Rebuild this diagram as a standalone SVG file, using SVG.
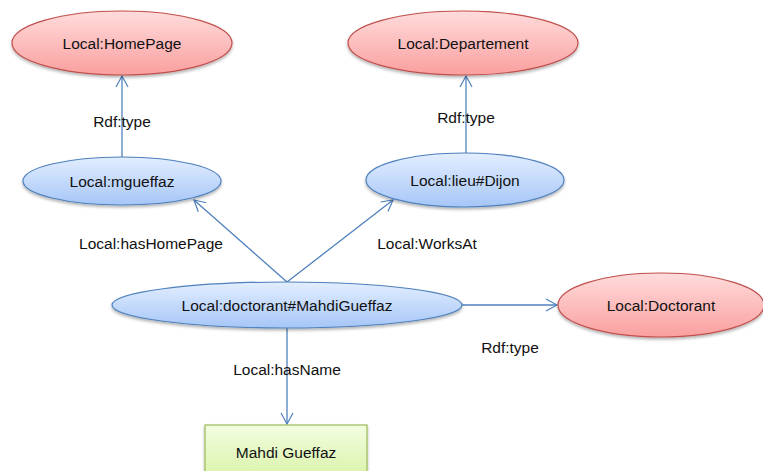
<svg xmlns="http://www.w3.org/2000/svg" width="763" height="471" viewBox="0 0 763 471">
<defs>
<linearGradient id="gRed" x1="0" y1="0" x2="0" y2="1"><stop offset="0" stop-color="#ffdcdc"/><stop offset="1" stop-color="#fa9f9f"/></linearGradient>
<linearGradient id="gBlue" x1="0" y1="0" x2="0" y2="1"><stop offset="0" stop-color="#e3eeff"/><stop offset="1" stop-color="#a6c6f7"/></linearGradient>
<linearGradient id="gGreen" x1="0" y1="0" x2="0" y2="1"><stop offset="0" stop-color="#f3fde0"/><stop offset="1" stop-color="#d8f2a6"/></linearGradient>
<filter id="sh" x="-10%" y="-20%" width="120%" height="150%"><feDropShadow dx="0" dy="2" stdDeviation="1.5" flood-color="#000" flood-opacity="0.3"/></filter>
<marker id="arr" markerWidth="14" markerHeight="14" refX="12" refY="7" orient="auto" markerUnits="userSpaceOnUse"><path d="M1,1 L12,7 L1,13" fill="none" stroke="#4f81bd" stroke-width="1.2"/></marker>
</defs>
<style>
.red{fill:url(#gRed);stroke:#c0504d;stroke-width:1.2;filter:url(#sh)}
.blue{fill:url(#gBlue);stroke:#4f81bd;stroke-width:1.2;filter:url(#sh)}
.green{fill:url(#gGreen);stroke:#9bbb59;stroke-width:1.2;filter:url(#sh)}
text{font-family:"Liberation Sans",Arial,sans-serif;font-size:15.5px;fill:#111;text-anchor:middle;dominant-baseline:central}
.edge{stroke:#4f81bd;stroke-width:1.3;fill:none;marker-end:url(#arr)}
</style>
<rect width="763" height="471" fill="#fff"/>
<g id="connectors">
<line class="edge" x1="122" y1="157" x2="122" y2="76"/>
<line class="edge" x1="466" y1="153" x2="466" y2="76"/>
<line class="edge" x1="287" y1="282" x2="194" y2="200"/>
<line class="edge" x1="287" y1="282" x2="393" y2="200"/>
<line class="edge" x1="462" y1="305" x2="557" y2="305"/>
<line class="edge" x1="287" y1="328" x2="287" y2="424"/>
<text x="122" y="121">Rdf:type</text>
<text x="466" y="117">Rdf:type</text>
<text x="151" y="243">Local:hasHomePage</text>
<text x="427" y="243">Local:WorksAt</text>
<text x="510" y="347">Rdf:type</text>
<text x="287" y="369">Local:hasName</text>
</g>
<g id="homepage"><ellipse class="red" cx="122" cy="43" rx="110" ry="32"/><text x="122" y="43">Local:HomePage</text></g>
<g id="departement"><ellipse class="red" cx="463" cy="43" rx="115" ry="32"/><text x="463" y="43">Local:Departement</text></g>
<g id="mgueffaz"><ellipse class="blue" cx="122" cy="181" rx="99" ry="24"/><text x="122" y="181">Local:mgueffaz</text></g>
<g id="dijon"><ellipse class="blue" cx="465" cy="180" rx="99" ry="27"/><text x="465" y="180">Local:lieu#Dijon</text></g>
<g id="doctorantMG"><ellipse class="blue" cx="287" cy="305" rx="175" ry="23"/><text x="287" y="305">Local:doctorant#MahdiGueffaz</text></g>
<g id="doctorant"><ellipse class="red" cx="661" cy="305" rx="103" ry="32"/><text x="661" y="305">Local:Doctorant</text></g>
<g id="name"><rect class="green" x="205" y="425" width="162" height="56"/><text x="286" y="452">Mahdi Gueffaz</text></g>
</svg>
